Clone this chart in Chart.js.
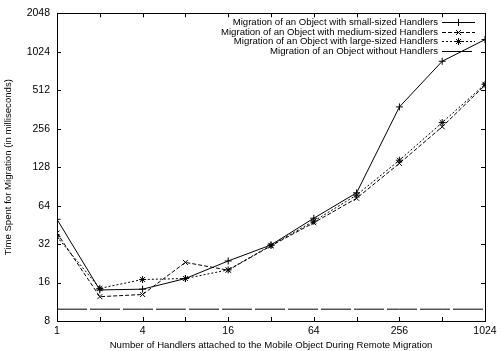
<!DOCTYPE html>
<html>
<head>
<meta charset="utf-8">
<script src="https://cdn.jsdelivr.net/npm/chart.js@4.4.1/dist/chart.umd.min.js"></script>
<style>
html,body{margin:0;padding:0;background:#fff;}
#wrap{width:501px;height:351px;}
</style>
</head>
<body>
<div id="wrap"><canvas id="c" width="501" height="351"></canvas></div>
<script>
// ---- data ----
const handlerCounts = [1, 2, 4, 8, 16, 32, 64, 128, 256, 512, 1024];
const smallHandlers  = [50, 14.0, 14.2, 17.2, 23.6, 31.5, 51, 80.6, 379, 863, 1275];
const mediumHandlers = [39, 12.4, 12.9, 23.0, 20.0, 31.0, 47, 73, 137, 265, 560];
const largeHandlers  = [36.5, 14.4, 16.9, 17.2, 20.1, 31.3, 48.4, 77.4, 145, 286, 570];
const noHandlers     = [9.9, 9.9, 9.9, 9.9, 9.9, 9.9, 9.9, 9.9, 9.9, 9.9, 9.9];
const seriesLabels = [
  "Migration of an Object with small-sized Handlers",
  "Migration of an Object with medium-sized Handlers",
  "Migration of an Object with large-sized Handlers",
  "Migration of an Object without Handlers"
];
const xTickValues = [1, 2, 4, 8, 16, 32, 64, 128, 256, 512, 1024];
const xTickLabels = [1, 4, 16, 64, 256, 1024];
const yTickValues = [8, 16, 32, 64, 128, 256, 512, 1024, 2048];
const xTitle = "Number of Handlers attached to the Mobile Object During Remote Migration";
const yTitle = "Time Spent for Migration (in milliseconds)";

const FONT = "'Liberation Sans', Arial, sans-serif";
const pts = arr => handlerCounts.map((x, i) => ({x: x, y: arr[i]}));

const frameAndTicks = {
  id: 'frameAndTicks',
  afterDraw(chart) {
    const ctx = chart.ctx, a = chart.chartArea;
    const xs = chart.scales.x, ys = chart.scales.y;
    ctx.save();
    ctx.strokeStyle = '#000';
    ctx.lineWidth = 1;
    ctx.setLineDash([]);
    ctx.strokeRect(Math.round(a.left) + 0.5, Math.round(a.top) + 0.5,
                   Math.round(a.right - a.left), Math.round(a.bottom - a.top));
    const L = 4;
    ctx.beginPath();
    xTickValues.forEach(v => {
      const px = Math.round(xs.getPixelForValue(v)) + 0.5;
      ctx.moveTo(px, a.bottom); ctx.lineTo(px, a.bottom - L);
      ctx.moveTo(px, a.top); ctx.lineTo(px, a.top + L);
    });
    yTickValues.forEach(v => {
      const py = Math.round(ys.getPixelForValue(v)) + 0.5;
      ctx.moveTo(a.left, py); ctx.lineTo(a.left + L, py);
      ctx.moveTo(a.right, py); ctx.lineTo(a.right - L, py);
    });
    ctx.stroke();

    // legend (gnuplot style: right-aligned text, sample on right)
    ctx.font = "9.6px " + FONT;
    ctx.fillStyle = '#000';
    ctx.textAlign = 'right';
    ctx.textBaseline = 'middle';
    const textRight = 438, s0 = 442, s1 = 475, rowY0 = 22, rowH = 9.6;
    chart.data.datasets.forEach((ds, i) => {
      const y = Math.round(rowY0 + i * rowH);
      ctx.fillText(ds.label, textRight, y);
      ctx.beginPath();
      ctx.setLineDash(ds.borderDash || []);
      ctx.moveTo(s0, y + 0.5); ctx.lineTo(s1, y + 0.5);
      ctx.stroke();
      ctx.setLineDash([]);
      if (ds.pointRadius > 0) {
        Chart.helpers.drawPoint(ctx, {pointStyle: ds.pointStyle, radius: ds.pointRadius, borderWidth: 1},
          (s0 + s1) / 2, y + 0.5);
      }
    });
    ctx.restore();
  }
};

new Chart(document.getElementById('c'), {
  type: 'line',
  data: {
    datasets: [
      {label: seriesLabels[0], data: pts(smallHandlers), borderColor: '#000', backgroundColor: '#000',
       borderWidth: 1, pointStyle: 'cross', pointRadius: 3.5, pointBorderWidth: 1, borderDash: []},
      {label: seriesLabels[1], data: pts(mediumHandlers), borderColor: '#000', backgroundColor: '#000',
       borderWidth: 1, pointStyle: 'crossRot', pointRadius: 3.5, pointBorderWidth: 1, borderDash: [4, 2]},
      {label: seriesLabels[2], data: pts(largeHandlers), borderColor: '#000', backgroundColor: '#000',
       borderWidth: 1, pointStyle: 'star', pointRadius: 3.5, pointBorderWidth: 1, borderDash: [2, 2]},
      {label: seriesLabels[3], data: pts(noHandlers), borderColor: '#000', backgroundColor: '#000',
       borderWidth: 1, pointRadius: 0, borderDash: [30, 3]}
    ]
  },
  options: {
    responsive: false,
    animation: false,
    events: [],
    layout: {padding: {top: 13, right: 16, bottom: 0, left: 0}},
    plugins: {legend: {display: false}, tooltip: {enabled: false}, title: {display: false}},
    elements: {line: {tension: 0}},
    scales: {
      x: {
        type: 'logarithmic', position: 'bottom', min: 1, max: 1024,
        grid: {display: false, drawTicks: false},
        border: {display: false},
        afterBuildTicks: s => { s.ticks = xTickValues.map(v => ({value: v})); },
        afterFit: s => { s.height = 30; },
        ticks: {
          autoSkip: false, maxRotation: 0, padding: 4, color: '#000',
          font: {family: FONT, size: 10.5},
          callback: v => xTickLabels.includes(v) ? String(v) : ''
        },
        title: {display: true, text: xTitle, color: '#000', font: {family: FONT, size: 9.6},
                padding: {top: 0, bottom: 0}}
      },
      y: {
        type: 'logarithmic', position: 'left', min: 8, max: 2048,
        grid: {display: false, drawTicks: false},
        border: {display: false},
        afterBuildTicks: s => { s.ticks = yTickValues.map(v => ({value: v})); },
        afterFit: s => { s.width = 57; },
        ticks: {
          autoSkip: false, padding: 7, color: '#000',
          font: {family: FONT, size: 10.5},
          callback: v => String(v)
        },
        title: {display: true, text: yTitle, color: '#000', font: {family: FONT, size: 9.6},
                padding: {top: 3, bottom: 0}}
      }
    }
  },
  plugins: [frameAndTicks]
});
</script>
</body>
</html>
